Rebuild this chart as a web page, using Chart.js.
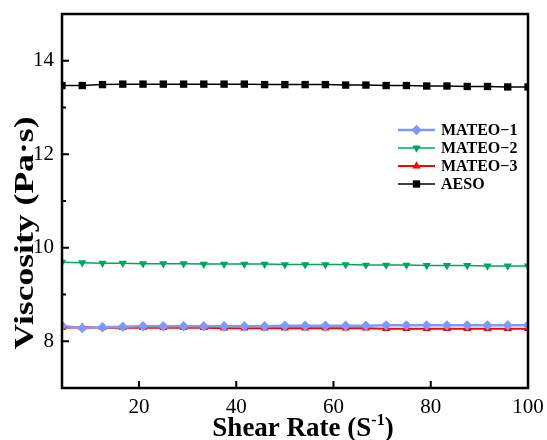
<!DOCTYPE html>
<html lang="en">
<head>
<meta charset="UTF-8">
<title>Viscosity</title>
<script src="https://cdn.jsdelivr.net/npm/chart.js"></script>
<style>
    html, body { margin: 0; padding: 0; background: #fff; }
    #box { width: 547px; height: 440px; }
</style>
</head>
<body>
<div id="box"><canvas id="grafico"></canvas></div>
<script>
    // shear rate values (S^-1)
    const shearRate = [4.17, 8.33, 12.5, 16.67, 20.83, 25, 29.17, 33.33, 37.5, 41.67, 45.83, 50,
        54.17, 58.33, 62.5, 66.67, 70.83, 75, 79.17, 83.33, 87.5, 91.67, 95.83, 100];

    // viscosity (Pa·s)
    const mateo1 = [8.33, 8.28, 8.30, 8.31, 8.32, 8.32, 8.32, 8.32, 8.32, 8.32, 8.32, 8.33,
        8.33, 8.33, 8.33, 8.33, 8.34, 8.34, 8.34, 8.34, 8.34, 8.34, 8.34, 8.34];
    const mateo2 = [9.69, 9.68, 9.67, 9.67, 9.66, 9.66, 9.66, 9.65, 9.65, 9.65, 9.65, 9.64,
        9.64, 9.64, 9.64, 9.63, 9.63, 9.63, 9.62, 9.62, 9.62, 9.61, 9.61, 9.61];
    const mateo3 = [8.29, 8.30, 8.29, 8.29, 8.29, 8.29, 8.29, 8.29, 8.28, 8.28, 8.28, 8.28,
        8.28, 8.28, 8.28, 8.28, 8.27, 8.27, 8.27, 8.27, 8.27, 8.27, 8.27, 8.27];
    const aeso = [13.47, 13.47, 13.49, 13.50, 13.50, 13.50, 13.50, 13.50, 13.50, 13.50, 13.49, 13.49,
        13.49, 13.49, 13.48, 13.48, 13.47, 13.47, 13.46, 13.46, 13.45, 13.45, 13.44, 13.44];

    const seriesNames = ['MATEO\u22121', 'MATEO\u22122', 'MATEO\u22123', 'AESO'];

    const xTicks = [20, 40, 60, 80, 100];
    const yTicks = [8, 10, 12, 14];
    const yMinorTicks = [9, 11, 13];

    const serif = "'Liberation Serif', 'Times New Roman', serif";

    function pares(valores) {
        return valores.map((v, i) => ({ x: shearRate[i], y: v }));
    }

    function serie(nome, valores, cor, estilo, raio, largura, rot) {
        return {
            label: nome,
            data: pares(valores),
            borderColor: cor,
            backgroundColor: cor,
            borderWidth: largura,
            pointStyle: estilo,
            pointRadius: raio,
            pointRotation: rot || 0,
            pointBorderWidth: 0,
            pointHoverRadius: raio,
            tension: 0
        };
    }

    // frame, inward ticks, axis titles and legend
    const extras = {
        id: 'extras',
        afterDraw(chart) {
            const ctx = chart.ctx;
            const a = chart.chartArea;
            const sx = chart.scales.x;
            const sy = chart.scales.y;
            ctx.save();
            ctx.strokeStyle = '#000';
            ctx.lineWidth = 2.5;
            ctx.strokeRect(a.left, a.top, a.right - a.left, a.bottom - a.top);

            ctx.lineWidth = 2;
            ctx.beginPath();
            xTicks.forEach(v => {
                const px = sx.getPixelForValue(v);
                ctx.moveTo(px, a.bottom);
                ctx.lineTo(px, a.bottom - 7);
            });
            yTicks.forEach(v => {
                const py = sy.getPixelForValue(v);
                ctx.moveTo(a.left, py);
                ctx.lineTo(a.left + 7, py);
            });
            yMinorTicks.forEach(v => {
                const py = sy.getPixelForValue(v);
                ctx.moveTo(a.left, py);
                ctx.lineTo(a.left + 4, py);
            });
            ctx.stroke();

            // y title
            ctx.fillStyle = '#000';
            ctx.save();
            ctx.translate(33, 233);
            ctx.rotate(-Math.PI / 2);
            ctx.font = 'bold 28px ' + serif;
            const ty = 'Viscosity (Pa\u00B7s)';
            const wy = ctx.measureText(ty).width;
            ctx.scale(233 / wy, 1);
            ctx.textAlign = 'center';
            ctx.textBaseline = 'alphabetic';
            ctx.fillText(ty, 0, 0);
            ctx.restore();

            // x title with superscript
            const p1 = 'Shear Rate (S';
            const p2 = '-1';
            const p3 = ')';
            ctx.textBaseline = 'alphabetic';
            ctx.textAlign = 'left';
            ctx.font = 'bold 27px ' + serif;
            const w1 = ctx.measureText(p1).width;
            const w3 = ctx.measureText(p3).width;
            ctx.font = 'bold 16px ' + serif;
            const w2 = ctx.measureText(p2).width;
            let x0 = 303 - (w1 + w2 + w3) / 2;
            const base = 436;
            ctx.font = 'bold 27px ' + serif;
            ctx.fillText(p1, x0, base);
            ctx.font = 'bold 16px ' + serif;
            ctx.fillText(p2, x0 + w1, base - 11);
            ctx.font = 'bold 27px ' + serif;
            ctx.fillText(p3, x0 + w1 + w2, base);

            // legend
            chart.data.datasets.forEach((ds, i) => {
                const y = 130 + 18 * i;
                ctx.strokeStyle = ds.borderColor;
                ctx.lineWidth = ds.borderWidth;
                ctx.beginPath();
                ctx.moveTo(398, y);
                ctx.lineTo(435, y);
                ctx.stroke();
                ctx.fillStyle = ds.backgroundColor;
                Chart.helpers.drawPoint(ctx, {
                    pointStyle: ds.pointStyle,
                    radius: ds.pointRadius,
                    rotation: ds.pointRotation,
                    borderWidth: 0
                }, 416.5, y);
                ctx.fillStyle = '#000';
                ctx.font = 'bold 16px ' + serif;
                ctx.textBaseline = 'middle';
                ctx.fillText(ds.label, 441, y + 1);
            });
            ctx.restore();
        }
    };

    const dados = {
        datasets: [
            serie(seriesNames[0], mateo1, '#8098F6', 'rectRot', 5.2, 2.5),
            serie(seriesNames[1], mateo2, '#00A65E', 'triangle', 4.8, 1.5, 180),
            serie(seriesNames[2], mateo3, '#FF0000', 'triangle', 4.8, 2),
            serie(seriesNames[3], aeso, '#000000', 'rect', 5.2, 1.5)
        ]
    };

    const config = {
        type: 'line',
        data: dados,
        options: {
            responsive: false,
            animation: false,
            devicePixelRatio: 1,
            layout: { padding: { left: 0, top: 14, right: 19, bottom: 0 } },
            plugins: {
                legend: { display: false },
                tooltip: { enabled: false }
            },
            scales: {
                x: {
                    type: 'linear',
                    min: 4.17,
                    max: 100,
                    afterBuildTicks: s => { s.ticks = xTicks.map(v => ({ value: v })); },
                    afterFit: s => {
                        s.height = 52;
                        s.paddingLeft = 0;
                        s.paddingRight = 0;
                    },
                    grid: { display: false, drawTicks: false },
                    border: { display: false },
                    ticks: {
                        color: '#000',
                        padding: 7,
                        maxRotation: 0,
                        font: { family: serif, size: 21 }
                    }
                },
                y: {
                    min: 7,
                    max: 15,
                    afterBuildTicks: s => { s.ticks = yTicks.map(v => ({ value: v })); },
                    afterFit: s => {
                        s.width = 62;
                        s.paddingTop = 0;
                        s.paddingBottom = 0;
                    },
                    grid: { display: false, drawTicks: false },
                    border: { display: false },
                    ticks: {
                        color: '#000',
                        padding: 8,
                        font: { family: serif, size: 21 }
                    }
                }
            }
        },
        plugins: [extras]
    };

    const cv = document.getElementById('grafico');
    cv.width = 547;
    cv.height = 440;
    new Chart(cv.getContext('2d'), config);
</script>
</body>
</html>
